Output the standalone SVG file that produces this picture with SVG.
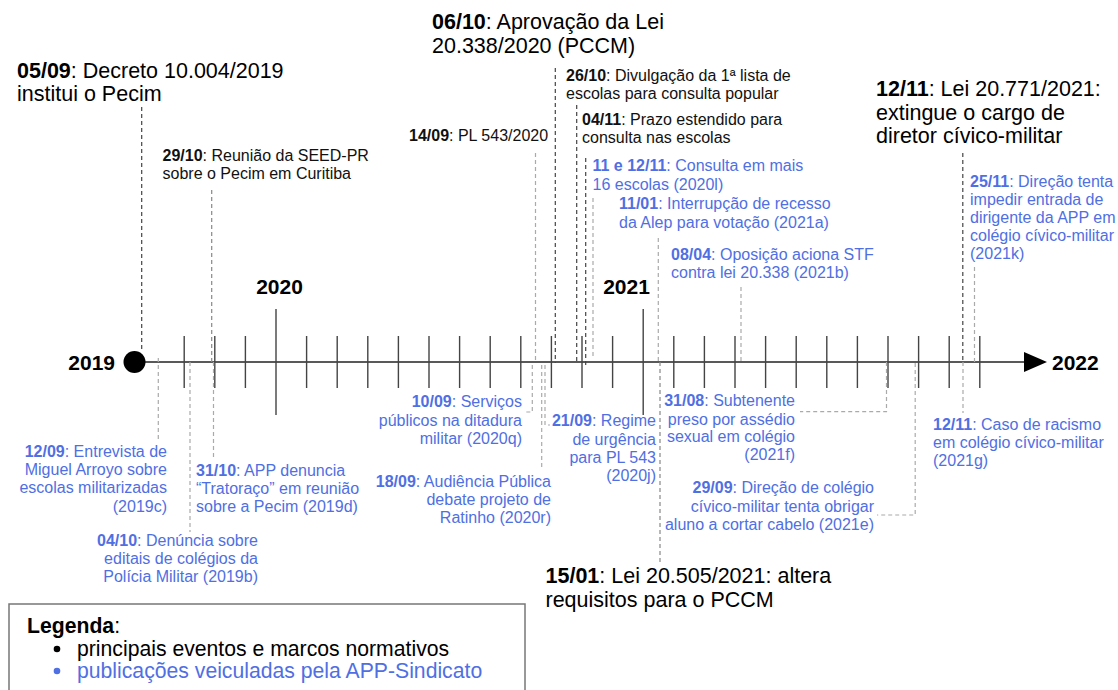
<svg xmlns="http://www.w3.org/2000/svg" width="1118" height="690" viewBox="0 0 1118 690">
<style>
text{font-family:"Liberation Sans",Arial,sans-serif}
.big{font-size:21.5px;fill:#000}
.leg{font-size:21.2px;fill:#000}
.sm{font-size:16px;fill:#111}
.blue{fill:#4f6fe3}
.b{font-weight:bold}
.yr{font-size:21px;font-weight:bold;fill:#000}
.dk{fill:none;stroke:#444;stroke-width:1.2;stroke-dasharray:4 3}
.md{fill:none;stroke:#888;stroke-width:1.2;stroke-dasharray:4 3}
.lt{fill:none;stroke:#aaa;stroke-width:1.2;stroke-dasharray:4 3}
.tick{fill:none;stroke:#444;stroke-width:1.4}
</style>
<rect width="1118" height="690" fill="#fff"/>

<g id="axis">
<line x1="135" y1="362" x2="1026" y2="362" stroke="#222" stroke-width="1.3"/>
<polygon points="1024,352 1047,362 1024,372" fill="#000"/>
<circle cx="134.5" cy="362" r="11" fill="#000"/>
<path class="tick" d="M184.2 336V388M214.8 336V388M245.4 336V388M306.6 336V388M337.2 336V388M367.8 336V388M398.4 336V388M429 336V388M459.6 336V388M490.2 336V388M520.8 336V388M551.4 336V388M582 336V388M612.6 336V388M673.8 336V388M704.4 336V388M735 336V388M765.6 336V388M796.2 336V388M826.8 336V388M857.4 336V388M888 336V388M918.6 336V388M949.2 336V388M979.8 336V388"/>
<path class="tick" d="M276 309V415M643.2 309V415"/>
<text class="yr" x="115" y="370" text-anchor="end">2019</text>
<text class="yr" x="279.5" y="294" text-anchor="middle">2020</text>
<text class="yr" x="626.5" y="294" text-anchor="middle">2021</text>
<text class="yr" x="1052" y="370">2022</text>
</g>

<g id="connectors">
<path class="dk" d="M141.7 107V352"/>
<path class="dk" d="M555.3 68V363"/>
<path class="dk" d="M576.7 105V363"/>
<path class="dk" d="M585.7 158V366"/>
<path class="dk" d="M962.8 153V362"/>
<path class="md" d="M660 362V562"/>
<path class="md" d="M211.7 190V362"/>
<path class="lt" d="M535.5 153V362"/>
<path class="lt" d="M593 198V358"/>
<path class="lt" d="M658.3 238V362"/>
<path class="lt" d="M741 287V362"/>
<path class="lt" d="M974.5 267V362"/>
<path class="lt" d="M158.3 358V442"/>
<path class="lt" d="M190 362V532"/>
<path class="lt" d="M213.5 362V458"/>
<path class="lt" d="M532.3 365V412H526"/>
<path class="lt" d="M541.7 365V470"/>
<path class="lt" d="M545 365V425H550"/>
<path class="lt" d="M886.5 362V411.7H800"/>
<path class="lt" d="M915.2 363V515H877"/>
<path class="lt" d="M963 362V413"/>
</g>

<g id="n0509"><text class="big"><tspan x="17" y="78"><tspan class="b">05/09</tspan>: Decreto 10.004/2019</tspan><tspan x="17" y="101">institui o Pecim</tspan></text></g>
<g id="n0610"><text class="big"><tspan x="432" y="29"><tspan class="b">06/10</tspan>: Aprovação da Lei</tspan><tspan x="432" y="53">20.338/2020 (PCCM)</tspan></text></g>
<g id="n1211"><text class="big"><tspan x="876" y="96"><tspan class="b">12/11</tspan>: Lei 20.771/2021:</tspan><tspan x="876" y="120">extingue o cargo de</tspan><tspan x="876" y="143">diretor cívico-militar</tspan></text></g>
<g id="n1501"><text class="big"><tspan x="545.5" y="583"><tspan class="b">15/01</tspan>: Lei 20.505/2021: altera</tspan><tspan x="545.5" y="607">requisitos para o PCCM</tspan></text></g>

<g id="n2910"><text class="sm"><tspan x="162.5" y="161"><tspan class="b">29/10</tspan>: Reunião da SEED-PR</tspan><tspan x="162.5" y="179">sobre o Pecim em Curitiba</tspan></text></g>
<g id="n1409"><text class="sm" x="409" y="141"><tspan class="b">14/09</tspan>: PL 543/2020</text></g>
<g id="n2610"><text class="sm"><tspan x="566" y="81"><tspan class="b">26/10</tspan>: Divulgação da 1ª lista de</tspan><tspan x="566" y="99">escolas para consulta popular</tspan></text></g>
<g id="n0411"><text class="sm"><tspan x="582" y="125"><tspan class="b">04/11</tspan>: Prazo estendido para</tspan><tspan x="582" y="143">consulta nas escolas</tspan></text></g>

<g id="a1112"><text class="sm blue"><tspan x="592.5" y="171"><tspan class="b">11 e 12/11</tspan>: Consulta em mais</tspan><tspan x="592.5" y="190">16 escolas (2020l)</tspan></text></g>
<g id="a1101"><text class="sm blue"><tspan x="619" y="209"><tspan class="b">11/01</tspan>: Interrupção de recesso</tspan><tspan x="619" y="228">da Alep para votação (2021a)</tspan></text></g>
<g id="a0804"><text class="sm blue"><tspan x="671" y="260"><tspan class="b">08/04</tspan>: Oposição aciona STF</tspan><tspan x="671" y="278">contra lei 20.338 (2021b)</tspan></text></g>
<g id="a2511"><text class="sm blue"><tspan x="970" y="187"><tspan class="b">25/11</tspan>: Direção tenta</tspan><tspan x="970" y="205">impedir entrada de</tspan><tspan x="970" y="223">dirigente da APP em</tspan><tspan x="970" y="241">colégio cívico-militar</tspan><tspan x="970" y="259">(2021k)</tspan></text></g>

<g id="a1209"><text class="sm blue" text-anchor="end"><tspan x="167" y="457"><tspan class="b">12/09</tspan>: Entrevista de</tspan><tspan x="167" y="475">Miguel Arroyo sobre</tspan><tspan x="167" y="493">escolas militarizadas</tspan><tspan x="167" y="512">(2019c)</tspan></text></g>
<g id="a0410"><text class="sm blue" text-anchor="end"><tspan x="258" y="546"><tspan class="b">04/10</tspan>: Denúncia sobre</tspan><tspan x="258" y="564">editais de colégios da</tspan><tspan x="258" y="582">Polícia Militar (2019b)</tspan></text></g>
<g id="a3110"><text class="sm blue"><tspan x="196" y="476"><tspan class="b">31/10</tspan>: APP denuncia</tspan><tspan x="196" y="494">“Tratoraço” em reunião</tspan><tspan x="196" y="512">sobre a Pecim (2019d)</tspan></text></g>
<g id="a1009"><text class="sm blue" text-anchor="end"><tspan x="522" y="407"><tspan class="b">10/09</tspan>: Serviços</tspan><tspan x="522" y="426">públicos na ditadura</tspan><tspan x="522" y="444">militar (2020q)</tspan></text></g>
<g id="a1809"><text class="sm blue" text-anchor="end"><tspan x="551" y="487"><tspan class="b">18/09</tspan>: Audiência Pública</tspan><tspan x="551" y="505">debate projeto de</tspan><tspan x="551" y="523">Ratinho (2020r)</tspan></text></g>
<g id="a2109"><text class="sm blue" text-anchor="end"><tspan x="656" y="426"><tspan class="b">21/09</tspan>: Regime</tspan><tspan x="656" y="445">de urgência</tspan><tspan x="656" y="463">para PL 543</tspan><tspan x="656" y="481">(2020j)</tspan></text></g>
<g id="a3108"><text class="sm blue" text-anchor="end"><tspan x="795" y="406"><tspan class="b">31/08</tspan>: Subtenente</tspan><tspan x="795" y="425">preso por assédio</tspan><tspan x="795" y="442">sexual em colégio</tspan><tspan x="795" y="460">(2021f)</tspan></text></g>
<g id="a2909"><text class="sm blue" text-anchor="end"><tspan x="874" y="493"><tspan class="b">29/09</tspan>: Direção de colégio</tspan><tspan x="874" y="512">cívico-militar tenta obrigar</tspan><tspan x="874" y="530">aluno a cortar cabelo (2021e)</tspan></text></g>
<g id="a1211"><text class="sm blue"><tspan x="933" y="430"><tspan class="b">12/11</tspan>: Caso de racismo</tspan><tspan x="933" y="448">em colégio cívico-militar</tspan><tspan x="933" y="466">(2021g)</tspan></text></g>

<g id="legend">
<rect x="9" y="604" width="516" height="100" fill="#fff" stroke="#777" stroke-width="1.5"/>
<text class="leg" x="27" y="633"><tspan class="b">Legenda</tspan>:</text>
<circle cx="57" cy="649" r="3.3" fill="#000"/>
<text class="leg" x="77" y="656">principais eventos e marcos normativos</text>
<circle cx="57" cy="671" r="3.3" fill="#4f6fe3"/>
<text class="leg blue" x="77" y="678">publicações veiculadas pela APP-Sindicato</text>
</g>
</svg>
